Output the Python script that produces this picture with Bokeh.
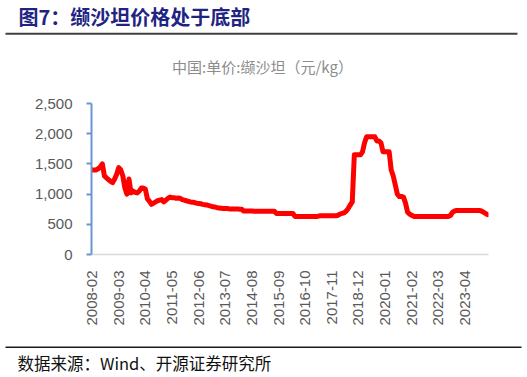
import math
from bokeh.plotting import figure
from bokeh.layouts import column
from bokeh.models import Range1d, FixedTicker, NumeralTickFormatter
from bokeh.core.properties import value
from bokeh.embed import file_html
from bokeh.resources import INLINE

# ---- data (monthly, 2008-02 .. 2024-03), unit: 元/kg ----
start_year, start_month = 2008, 2
v2008 = [1400, 1400, 1400, 1420, 1450, 1500, 1300, 1270, 1240, 1210, 1190]
v2009 = [1250, 1330, 1440, 1400, 1300, 1100, 1000, 1250, 1020, 1050, 1030, 1020]
v2010 = [1050, 1100, 1100, 1080, 920, 880, 830, 850, 870, 890, 900, 910]
v2011 = [870, 900, 930, 950, 940, 940, 930, 935, 930, 910, 900, 890]
v2012 = [880, 870, 865, 860, 850, 845, 840, 830, 825, 820, 810, 800]
v2013 = [790, 785, 775, 770, 765, 760, 760, 760, 755, 755, 755, 755]
v2014 = [755, 750, 750, 720, 720, 720, 720, 720, 715, 715, 715, 715]
v2015 = [715, 715, 715, 715, 715, 715, 715, 680, 680, 680, 680, 680]
v2016 = [680, 680, 680, 680, 630, 630, 630, 630, 630, 630, 630, 630]
v2017 = [630, 630, 630, 630, 640, 640, 640, 640, 640, 640, 640, 640]
v2018 = [640, 650, 670, 680, 690, 720, 760, 820, 870, 1650, 1650, 1650]
v2019 = [1650, 1700, 1850, 1950, 1950, 1950, 1950, 1950, 1880, 1880, 1850, 1700]
v2020 = [1700, 1700, 1700, 1400, 1300, 1150, 1000, 960, 960, 950, 850, 700]
v2021 = [670, 650, 630, 630, 630, 630, 630, 630, 630, 630, 630, 630]
v2022 = [630, 630, 630, 630, 630, 630, 630, 630, 650, 700, 720, 730]
v2023 = [730, 730, 730, 730, 730, 730, 730, 730, 730, 730, 730, 720]
v2024 = [700, 680, 660]

values = (v2008 + v2009 + v2010 + v2011 + v2012 + v2013 + v2014 + v2015 + v2016
          + v2017 + v2018 + v2019 + v2020 + v2021 + v2022 + v2023 + v2024)
months = [f"{start_year + (start_month - 1 + i) // 12}-{(start_month - 1 + i) % 12 + 1:02d}"
          for i in range(len(values))]
idx = list(range(len(values)))

tick_labels = ["2008-02", "2009-03", "2010-04", "2011-05", "2012-06", "2013-07", "2014-08",
               "2015-09", "2016-10", "2017-11", "2018-12", "2020-01", "2021-02", "2022-03",
               "2023-04"]
y_ticks = [0, 500, 1000, 1500, 2000, 2500]

title_text = "图7：缬沙坦价格处于底部"
chart_title = "中国:单价:缬沙坦（元/kg）"
source_text = "数据来源：Wind、开源证券研究所"

W = 527
TOP_H, MID_H, BOT_H = 85, 255, 37


def blank_fig(h):
    f = figure(width=W, height=h, output_backend="svg", toolbar_location=None,
               x_range=Range1d(0, W), y_range=Range1d(h, 0),
               x_axis_location=None, y_axis_location=None,
               min_border=0, min_border_left=0, min_border_right=0,
               min_border_top=0, min_border_bottom=0, frame_align=False)
    f.outline_line_color = None
    f.xgrid.visible = False
    f.ygrid.visible = False
    f.background_fill_color = "white"
    f.border_fill_color = "white"
    return f


# ---- header ----
top = blank_fig(TOP_H)
top.text(x=[18], y=[16], text=[title_text], text_font=value("Noto Sans CJK SC"),
         text_font_style="bold", text_font_size="20px", text_color="#1F2483",
         text_baseline="middle", text_align="left")
top.line(x=[5, 517], y=[33.3, 33.3], line_color="#404040", line_width=2)
top.text(x=[262], y=[66], text=[chart_title], text_font=value("Noto Sans CJK SC"),
         text_font_size="15px", text_color="#8C8C8C", text_baseline="middle",
         text_align="center")

# ---- chart ----
FL, FR, FT, FB = 91, 39, 18, 86
p = figure(width=W, height=MID_H, output_backend="svg", toolbar_location=None,
           min_border_left=FL, min_border_right=FR, min_border_top=FT, min_border_bottom=FB,
           x_range=Range1d(-0.3, len(values) - 0.5), y_range=Range1d(0, 2500),
           frame_align=False)
p.outline_line_color = None
p.xgrid.visible = False
p.ygrid.visible = False
p.background_fill_color = "white"
p.border_fill_color = "white"

p.line(idx, values, line_color="#FF0000", line_width=5, line_join="round", line_cap="round")

tick_pos = [months.index(t) for t in tick_labels]
xa = p.xaxis[0]
xa.ticker = FixedTicker(ticks=tick_pos)
xa.major_label_overrides = {pos: lab for pos, lab in zip(tick_pos, tick_labels)}
xa.major_label_orientation = math.pi / 2
xa.axis_line_color = "#D9D9D9"
xa.axis_line_width = 1.5
xa.major_tick_line_color = None
xa.minor_tick_line_color = None
xa.major_label_text_font = "Liberation Sans"
xa.major_label_text_font_size = "15px"
xa.major_label_text_color = "#595959"
xa.major_label_standoff = 10

ya = p.yaxis[0]
ya.ticker = FixedTicker(ticks=y_ticks)
ya.formatter = NumeralTickFormatter(format="0,0")
ya.axis_line_color = "#6A96CF"
ya.axis_line_width = 2
ya.major_tick_line_color = "#6A96CF"
ya.major_tick_line_width = 2
ya.major_tick_in = 0
ya.major_tick_out = 5
ya.minor_tick_line_color = None
ya.major_label_text_font = "Liberation Sans"
ya.major_label_text_font_size = "15px"
ya.major_label_text_color = "#595959"
ya.major_label_standoff = 14

# ---- footer ----
bot = blank_fig(BOT_H)
bot.line(x=[5, 521], y=[6.7, 6.7], line_color="#1A1A1A", line_width=1.5)
bot.text(x=[17], y=[22.7], text=[source_text], text_font=value("Noto Sans CJK SC"),
         text_font_size="16.5px", text_color="#111111", text_baseline="middle",
         text_align="left")

layout = column(top, p, bot, spacing=0)
open("out.html", "w").write(file_html(layout, INLINE))
